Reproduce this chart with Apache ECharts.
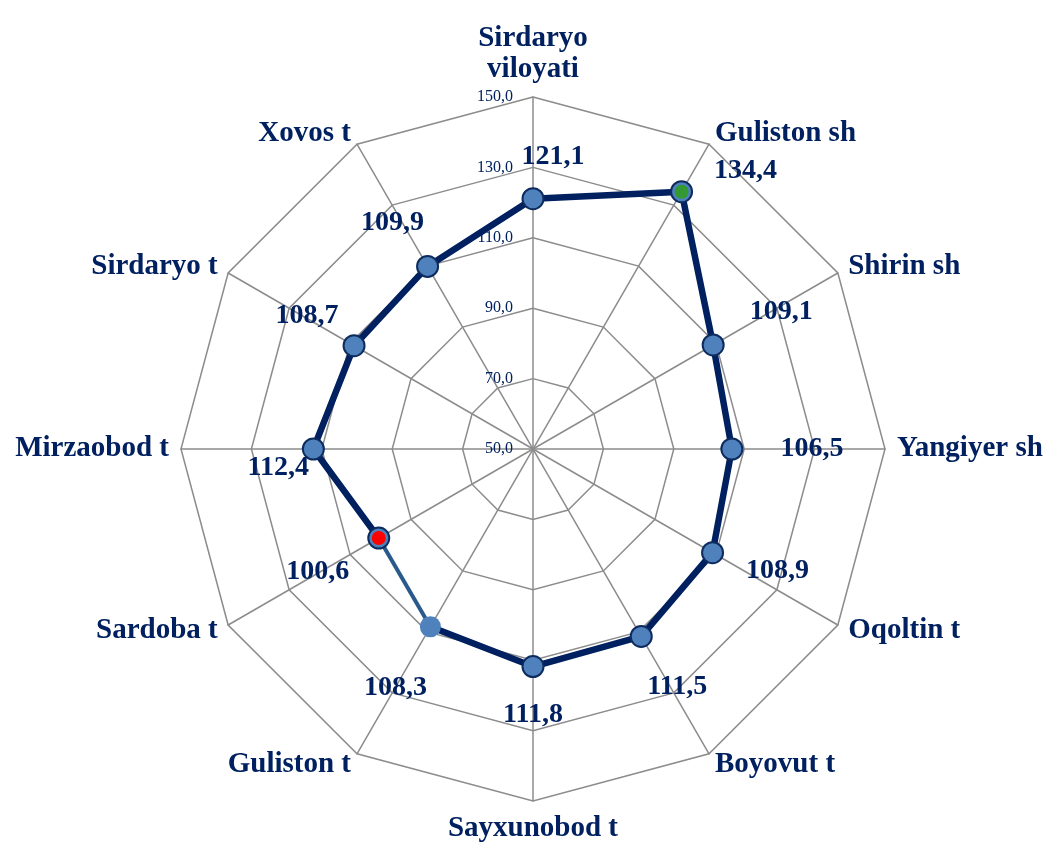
<!DOCTYPE html>
<html><head><meta charset="utf-8">
<script src="https://cdn.jsdelivr.net/npm/echarts@6/dist/echarts.min.js"></script>
<style>html,body{margin:0;padding:0;background:#fff}#c{width:1051px;height:843px}</style>
</head><body><div id="c"></div>
<script>
// ---- data ----
const categories = ['Sirdaryo\nviloyati', 'Guliston sh', 'Shirin sh', 'Yangiyer sh', 'Oqoltin t', 'Boyovut t',
  'Sayxunobod t', 'Guliston t', 'Sardoba t', 'Mirzaobod t', 'Sirdaryo t', 'Xovos t'];
const values = [121.1, 134.4, 109.1, 106.5, 108.9, 111.5, 111.8, 108.3, 100.6, 112.4, 108.7, 109.9];
const axisMin = 50, axisMax = 150, axisStep = 20;

// ---- styling ----
const NAVY = '#002060';
const labelOffsets = [[20,-42],[64,-21],[68,-33],[80,0],[65,18],[36,50],[0,48],[-35,61],[-61,34],[-35,19],[-47,-30],[-35,-44]];
const highlight = {1: '#339933', 8: '#FF0000'};
const lightSegment = [7, 8];
const SERIF = '"Liberation Serif","Times New Roman",serif';
const CENTER = [533, 449], RADIUS = 352;

const fmt = v => v.toFixed(1).replace('.', ',');
const n = categories.length;

// radar draws indicators counter-clockwise; reverse so they run clockwise from the top
const radarOrder = [categories[0]].concat(categories.slice(1).reverse());

// main line: whole loop except the light segment
const mainLine = [];
for (let i = 0; i <= lightSegment[0]; i++) mainLine.push([values[i], i]);
mainLine.push(['-', '-']);
for (let i = lightSegment[1]; i < n; i++) mainLine.push([values[i], i]);
mainLine.push([values[0], n]);
const lightLine = lightSegment.map(i => [values[i], i]);

const markers = values.map((v, i) => ({
  value: [v, i],
  itemStyle: i === lightSegment[0] ? {borderWidth: 0} : {},
  label: {offset: labelOffsets[i]}
}));
const hiMarkers = Object.keys(highlight).map(k => ({value: [values[+k], +k], itemStyle: {color: highlight[k]}}));

const chart = echarts.init(document.getElementById('c'));
chart.setOption({
  animation: false,
  backgroundColor: '#fff',
  radar: {
    center: CENTER, radius: RADIUS, shape: 'polygon', splitNumber: 5, startAngle: 90,
    indicator: radarOrder.map(c => ({name: c, min: axisMin, max: axisMax})),
    axisName: {color: NAVY, fontFamily: SERIF, fontWeight: 'bold', fontSize: 29, lineHeight: 31},
    nameGap: 12,
    axisLine: {lineStyle: {color: '#8c8c8c', width: 1.5}},
    splitLine: {lineStyle: {color: '#8c8c8c', width: 1.5}},
    splitArea: {show: false}
  },
  polar: {center: CENTER, radius: RADIUS},
  angleAxis: {type: 'value', min: 0, max: n, startAngle: 90, clockwise: true, show: false,
    axisLine: {show: false}, splitLine: {show: false}, axisLabel: {show: false}, axisTick: {show: false}},
  radiusAxis: {type: 'value', min: axisMin, max: axisMax, interval: axisStep,
    axisLine: {show: false}, axisTick: {show: false}, splitLine: {show: false},
    axisLabel: {formatter: fmt, color: NAVY, fontFamily: SERIF, fontSize: 16, margin: 20}},
  series: [
    {type: 'line', coordinateSystem: 'polar', data: mainLine, symbol: 'none', z: 3,
      lineStyle: {color: NAVY, width: 6.5, join: 'round'}},
    {type: 'line', coordinateSystem: 'polar', data: lightLine, symbol: 'none', z: 3,
      lineStyle: {color: '#2A5A8C', width: 4}},
    {type: 'scatter', coordinateSystem: 'polar', data: markers, symbolSize: 21, z: 4,
      itemStyle: {color: '#4F81BD', borderColor: '#0E2B5E', borderWidth: 2, opacity: 1},
      label: {show: true, position: 'inside', formatter: p => fmt(p.value[0]), color: NAVY,
        fontFamily: SERIF, fontWeight: 'bold', fontSize: 28}},
    {type: 'scatter', coordinateSystem: 'polar', data: hiMarkers, symbolSize: 14, z: 5,
      itemStyle: {opacity: 1}, silent: true}
  ]
});
</script></body></html>
